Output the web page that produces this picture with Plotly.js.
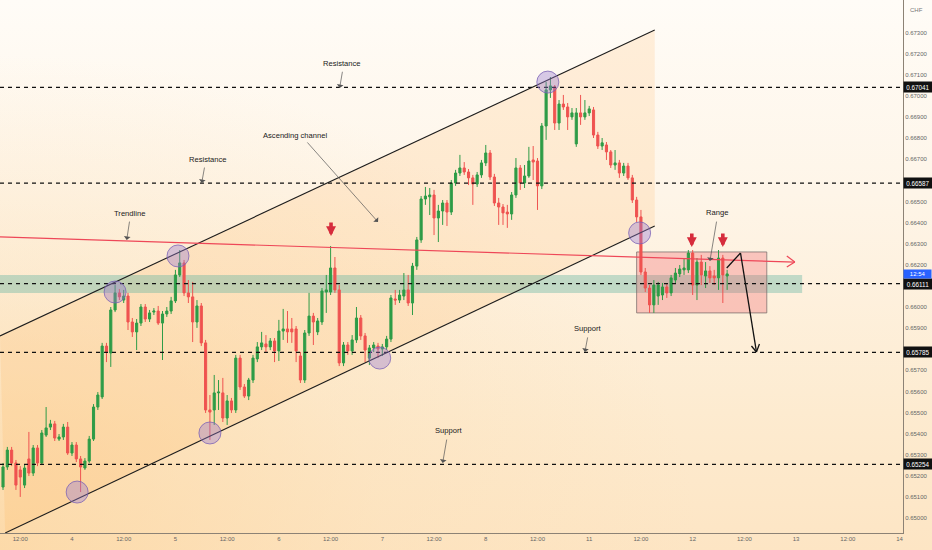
<!DOCTYPE html>
<html>
<head>
<meta charset="utf-8">
<script src="https://cdn.plot.ly/plotly-3.0.1.min.js"></script>
<style>
  html, body { margin:0; padding:0; }
  body { width:932px; height:550px; overflow:hidden;
    background: linear-gradient(to bottom, #fffcf7 0%, #fef5e8 35%, #fdebd0 75%, #fde5c4 100%); }
  #chart { width:932px; height:550px;
    background: radial-gradient(ellipse 75% 90% at 0% 100%, rgba(252,214,160,0.75) 0%, rgba(252,222,178,0.35) 55%, rgba(255,255,255,0) 100%); }
</style>
</head>
<body>
<div id="chart"></div>
<script>
// ---- hourly candles (x = hours from day "4" 00:00, trading hours only) ----
const firstHour = -16;
const open = [
0.65147,0.65242,0.65322,0.65261,0.65228,0.65156,0.65280,0.65213,0.65332,0.65261,
0.65393,0.65431,0.65446,0.65374,0.65384,0.65431,0.65308,0.65346,0.65280,0.65237,
0.65270,0.65374,0.65526,0.65574,0.65815,0.65782,0.65986,0.66067,0.66033,0.66052,
0.65929,0.65882,0.65924,0.66000,0.65943,0.65976,0.65981,0.65924,0.65967,0.65981,
0.66029,0.66152,0.66209,0.66067,0.66048,0.65929,0.66005,0.65830,0.65512,0.65512,
0.65593,0.65593,0.65474,0.65555,0.65512,0.65758,0.65621,0.65578,0.65654,0.65754,
0.65811,0.65825,0.65811,0.65839,0.65792,0.65886,0.65896,0.65896,0.65896,0.65768,
0.65654,0.65877,0.65957,0.65882,0.65929,0.66071,0.66071,0.66185,0.66081,0.65735,
0.65820,0.65792,0.65844,0.65948,0.65863,0.65758,0.65806,0.65815,0.65801,0.65811,
0.65848,0.66038,0.66033,0.66052,0.66081,0.66019,0.66194,0.66318,0.66512,0.66522,
0.66531,0.66422,0.66455,0.66493,0.66450,0.66588,0.66635,0.66659,0.66640,0.66612,
0.66583,0.66626,0.66683,0.66730,0.66616,0.66493,0.66474,0.66450,0.66441,0.66531,
0.66659,0.66588,0.66621,0.66697,0.66692,0.66574,0.66858,0.67029,0.67043,0.66872,
0.66962,0.66948,0.66901,0.66773,0.66920,0.66901,0.66920,0.66934,0.66815,0.66763,
0.66768,0.66735,0.66673,0.66683,0.66635,0.66668,0.66612,0.66507,0.66427,0.66166,
0.66090,0.66010,0.66052,0.66057,0.66095,0.66067,0.66128,0.66157,0.66176,0.66176,
0.66256,0.66104,0.66213,0.66147,0.66171,0.66147,0.66138,0.66232,0.66147];
const high = [
0.65261,0.65337,0.65337,0.65275,0.65246,0.65256,0.65408,0.65346,0.65346,0.65417,
0.65526,0.65465,0.65460,0.65398,0.65446,0.65455,0.65360,0.65360,0.65294,0.65284,
0.65389,0.65540,0.65597,0.65830,0.65830,0.66000,0.66104,0.66085,0.66081,0.66067,
0.65948,0.65943,0.66014,0.66014,0.65986,0.65995,0.66005,0.65981,0.66000,0.66048,
0.66176,0.66270,0.66223,0.66128,0.66119,0.66033,0.66019,0.65844,0.65583,0.65678,
0.65654,0.65664,0.65583,0.65569,0.65773,0.65773,0.65635,0.65664,0.65773,0.65834,
0.65882,0.65867,0.65853,0.65853,0.65939,0.65991,0.65981,0.65948,0.65910,0.65787,
0.65891,0.66067,0.65972,0.65948,0.66090,0.66152,0.66289,0.66237,0.66104,0.65834,
0.65834,0.65867,0.66000,0.65962,0.65877,0.65820,0.65834,0.65830,0.65825,0.65863,
0.66057,0.66081,0.66081,0.66161,0.66152,0.66209,0.66332,0.66526,0.66569,0.66564,
0.66555,0.66484,0.66507,0.66507,0.66602,0.66650,0.66721,0.66687,0.66654,0.66626,
0.66640,0.66697,0.66768,0.66744,0.66631,0.66517,0.66488,0.66484,0.66545,0.66706,
0.66673,0.66673,0.66759,0.66763,0.66706,0.66872,0.67067,0.67090,0.67052,0.66981,
0.67005,0.66967,0.66943,0.66943,0.67005,0.66981,0.66953,0.66948,0.66830,0.66801,
0.66782,0.66744,0.66744,0.66697,0.66683,0.66683,0.66626,0.66522,0.66460,0.66185,
0.66104,0.66128,0.66119,0.66114,0.66109,0.66152,0.66185,0.66199,0.66232,0.66270,
0.66270,0.66232,0.66247,0.66213,0.66194,0.66176,0.66270,0.66247,0.66176];
const low = [
0.65133,0.65228,0.65246,0.65133,0.65100,0.65142,0.65199,0.65199,0.65246,0.65251,
0.65384,0.65417,0.65365,0.65365,0.65370,0.65299,0.65294,0.65265,0.65123,0.65228,
0.65261,0.65365,0.65512,0.65564,0.65739,0.65716,0.65976,0.66033,0.66019,0.65891,
0.65858,0.65796,0.65910,0.65929,0.65929,0.65962,0.65915,0.65749,0.65953,0.65967,
0.66019,0.66142,0.66052,0.66019,0.65834,0.65901,0.65815,0.65498,0.65370,0.65441,
0.65512,0.65455,0.65441,0.65498,0.65498,0.65607,0.65569,0.65559,0.65640,0.65739,
0.65796,0.65787,0.65796,0.65739,0.65744,0.65844,0.65830,0.65830,0.65739,0.65640,
0.65640,0.65863,0.65820,0.65867,0.65915,0.65972,0.66057,0.66067,0.65720,0.65720,
0.65773,0.65773,0.65830,0.65844,0.65739,0.65725,0.65787,0.65758,0.65768,0.65796,
0.65834,0.66010,0.66019,0.66033,0.66005,0.65962,0.66176,0.66304,0.66484,0.66436,
0.66341,0.66308,0.66389,0.66384,0.66436,0.66574,0.66621,0.66626,0.66578,0.66484,
0.66569,0.66612,0.66668,0.66602,0.66479,0.66389,0.66389,0.66375,0.66413,0.66517,
0.66555,0.66564,0.66612,0.66602,0.66460,0.66559,0.66792,0.66991,0.66839,0.66839,
0.66934,0.66839,0.66887,0.66759,0.66863,0.66887,0.66905,0.66801,0.66749,0.66744,
0.66697,0.66659,0.66650,0.66612,0.66621,0.66602,0.66493,0.66403,0.66152,0.66071,
0.65972,0.65972,0.66010,0.66033,0.66043,0.66052,0.66114,0.66142,0.66152,0.66161,
0.66057,0.66033,0.66104,0.66090,0.66114,0.66104,0.66081,0.66019,0.66081];
const close = [
0.65242,0.65322,0.65261,0.65156,0.65194,0.65237,0.65213,0.65332,0.65261,0.65403,
0.65427,0.65446,0.65379,0.65384,0.65431,0.65308,0.65346,0.65280,0.65242,0.65270,
0.65374,0.65526,0.65583,0.65815,0.65787,0.65986,0.66067,0.66048,0.66052,0.65929,
0.65882,0.65924,0.66000,0.65943,0.65972,0.65981,0.65924,0.65967,0.65981,0.66029,
0.66152,0.66209,0.66067,0.66048,0.65929,0.66005,0.65830,0.65512,0.65502,0.65593,
0.65597,0.65474,0.65555,0.65512,0.65758,0.65621,0.65578,0.65654,0.65758,0.65811,
0.65830,0.65811,0.65839,0.65792,0.65886,0.65896,0.65882,0.65882,0.65792,0.65654,
0.65877,0.65957,0.65929,0.65934,0.66076,0.66081,0.66185,0.66081,0.65735,0.65820,
0.65792,0.65844,0.65948,0.65863,0.65796,0.65806,0.65820,0.65801,0.65811,0.65848,
0.66043,0.66033,0.66057,0.66081,0.66019,0.66194,0.66318,0.66512,0.66526,0.66531,
0.66422,0.66455,0.66493,0.66450,0.66588,0.66635,0.66659,0.66640,0.66612,0.66583,
0.66626,0.66683,0.66730,0.66616,0.66493,0.66474,0.66446,0.66441,0.66531,0.66659,
0.66588,0.66621,0.66692,0.66687,0.66574,0.66858,0.67029,0.67048,0.66872,0.66962,
0.66948,0.66901,0.66920,0.66920,0.66901,0.66920,0.66939,0.66815,0.66763,0.66778,
0.66735,0.66673,0.66683,0.66635,0.66668,0.66612,0.66507,0.66427,0.66166,0.66090,
0.66010,0.66104,0.66104,0.66095,0.66067,0.66138,0.66161,0.66180,0.66185,0.66256,
0.66104,0.66213,0.66152,0.66171,0.66138,0.66138,0.66232,0.66152,0.66157];

// ---- axis ticks ----
const xTickVals = [-12,0,12,24,36,48,60,72,84,96,108,120,132,144,156,168,180,192];
const xTickText = ["12:00","4","12:00","5","12:00","6","12:00","7","12:00","8","12:00","11","12:00","12","12:00","13","12:00","14"];
// price ticks that are not hidden behind the level labels
const yTickVals = [0.650,0.651,0.652,0.653,0.654,0.655,0.656,0.657,0.659,0.660,0.662,0.663,0.664,0.665,0.667,0.668,0.669,0.670,0.671,0.672,0.673];

// ---- drawn levels / tools ----
const levelPrices = [0.67041, 0.66587, 0.66111, 0.65785, 0.65254];
const levelLabels = ["0.67041", "0.66587", "0.66111", "0.65785", "0.65254"];
const channelUpper = [[-16.7, 0.65863], [135.2, 0.67313]];
const channelLower = [[-15.5, 0.64929], [135.2, 0.66384]];
const trendLine = [[-16.7, 0.66332], [167.7, 0.66213]];
const zoneBand = {x: [-16.7, 169.4], y: [0.66067, 0.66152]};
const rangeBox = {x: [131.0, 161.2], y: [0.65972, 0.66261]};
const projection = [[151.9, 0.66185], [155.1, 0.66256], [158.8, 0.65787]];
const touchX = [1.2, 10.0, 24.6, 32.0, 71.4, 110.4, 131.7];
const touchY = [0.65123, 0.66071, 0.66242, 0.65403, 0.65758, 0.67066, 0.66351];
const sellArrowX = [60.1, 143.8, 151.0];
const sellArrowY = [0.66336, 0.66284, 0.66284];
const noteText = ["Resistance", "Resistance", "Ascending channel", "Trendline", "Range", "Support", "Support"];
const noteX = [62.6, 31.5, 51.7, 13.4, 149.6, 119.7, 87.4];
const noteY = [0.67156, 0.66701, 0.66815, 0.66445, 0.66450, 0.65900, 0.65417];
const pointerFrom = [[62.8, 0.67122], [30.8, 0.66668], [54.3, 0.66787], [13.4, 0.66412], [149.6, 0.66412], [119.7, 0.65863], [87.0, 0.65379]];
const pointerTo = [[62.1, 0.67038], [30.1, 0.66588], [71.0, 0.66403], [12.7, 0.66318], [148.0, 0.66218], [119.0, 0.65787], [86.0, 0.65261]];
const lastPriceCountdown = "12:54";
const lastPrice = 0.66157;
const currency = "CHF";

const x = close.map((_, i) => firstHour + i);
const GREEN = '#2e9c47', RED = '#ef5350';

const traces = [{
  type: 'candlestick', x: x, open: open, high: high, low: low, close: close,
  increasing: {line: {color: GREEN, width: 1}, fillcolor: GREEN},
  decreasing: {line: {color: RED, width: 1}, fillcolor: RED},
  whiskerwidth: 0, hoverinfo: 'skip', showlegend: false
}];

const shapes = [];
shapes.push({type: 'path', xref: 'x', yref: 'y', layer: 'below',
  path: `M ${channelUpper[0][0]},${channelUpper[0][1]} L ${channelUpper[1][0]},${channelUpper[1][1]} L ${channelLower[1][0]},${channelLower[1][1]} L ${channelLower[0][0]},${channelLower[0][1]} Z`,
  fillcolor: 'rgba(255,166,60,0.14)', line: {width: 0}});
shapes.push({type: 'rect', xref: 'x', yref: 'y', layer: 'below',
  x0: zoneBand.x[0], x1: zoneBand.x[1], y0: zoneBand.y[0], y1: zoneBand.y[1],
  fillcolor: 'rgba(95,180,160,0.38)', line: {width: 0}});
shapes.push({type: 'rect', xref: 'x', yref: 'y', layer: 'below',
  x0: rangeBox.x[0], x1: rangeBox.x[1], y0: rangeBox.y[0], y1: rangeBox.y[1],
  fillcolor: 'rgba(240,80,95,0.28)', line: {color: 'rgba(110,100,100,0.7)', width: 1}});
[channelUpper, channelLower].forEach(l => shapes.push({type: 'line', xref: 'x', yref: 'y',
  x0: l[0][0], y0: l[0][1], x1: l[1][0], y1: l[1][1], line: {color: '#1d1d1d', width: 1.1}}));
levelPrices.forEach(p => shapes.push({type: 'line', xref: 'paper', yref: 'y', x0: 0, x1: 1, y0: p, y1: p,
  line: {color: '#111', width: 1.3, dash: '4px,4px'}}));
shapes.push({type: 'line', xref: 'x', yref: 'y', x0: trendLine[0][0], y0: trendLine[0][1], x1: trendLine[1][0], y1: trendLine[1][1],
  line: {color: '#ee4758', width: 1.2}});
[[-8, 6], [-8, -5]].forEach(w => shapes.push({type: 'line', xref: 'x', yref: 'y', xsizemode: 'pixel', ysizemode: 'pixel',
  xanchor: trendLine[1][0], yanchor: trendLine[1][1], x0: w[0], y0: w[1], x1: 0, y1: 0, line: {color: '#ee4758', width: 1.2}}));
for (let i = 0; i < projection.length - 1; i++) {
  shapes.push({type: 'line', xref: 'x', yref: 'y', x0: projection[i][0], y0: projection[i][1], x1: projection[i+1][0], y1: projection[i+1][1],
    line: {color: '#111', width: 1.3}});
}
const tip = projection[projection.length - 1];
[[3, 8], [-5, 6]].forEach(w => shapes.push({type: 'line', xref: 'x', yref: 'y', xsizemode: 'pixel', ysizemode: 'pixel',
  xanchor: tip[0], yanchor: tip[1], x0: w[0], y0: w[1], x1: 0, y1: 0, line: {color: '#111', width: 1.3}}));
touchX.forEach((tx, i) => shapes.push({type: 'circle', xref: 'x', yref: 'y', xsizemode: 'pixel', ysizemode: 'pixel',
  xanchor: tx, yanchor: touchY[i], x0: -11, x1: 11, y0: -11, y1: 11,
  fillcolor: 'rgba(150,120,210,0.38)', line: {color: 'rgba(120,95,180,0.75)', width: 1}}));

const annotations = [];
noteText.forEach((t, i) => annotations.push({x: noteX[i], y: noteY[i], xref: 'x', yref: 'y', text: t, showarrow: false,
  font: {family: 'Liberation Sans, Arial, sans-serif', size: 7.6, color: '#1a1a1a'}}));
pointerFrom.forEach((f, i) => annotations.push({x: pointerTo[i][0], y: pointerTo[i][1], ax: f[0], ay: f[1], axref: 'x', ayref: 'y',
  xref: 'x', yref: 'y', text: '', showarrow: true, arrowhead: 1, arrowsize: 1.6, arrowwidth: 0.7, arrowcolor: '#555', standoff: 0}));
sellArrowX.forEach((sx, i) => annotations.push({x: sx, y: sellArrowY[i], xref: 'x', yref: 'y', text: '', showarrow: true,
  ax: 0, ay: -15, arrowhead: 2, arrowsize: 0.55, arrowwidth: 3.6, arrowcolor: '#d62c3c', standoff: 0}));
levelPrices.forEach((p, i) => annotations.push({x: 1, y: p, xref: 'paper', yref: 'y', xanchor: 'left', text: levelLabels[i],
  showarrow: false, bgcolor: '#111', borderpad: 1.5, width: 25, align: 'center',
  font: {family: 'Liberation Sans, Arial, sans-serif', size: 6.3, color: '#fff'}}));
annotations.push({x: 1, y: lastPrice - 0.00002, xref: 'paper', yref: 'y', xanchor: 'left', text: lastPriceCountdown,
  showarrow: false, bgcolor: '#2962ff', borderpad: 1.2, width: 25, align: 'center',
  font: {family: 'Liberation Sans, Arial, sans-serif', size: 6, color: '#fff'}});
annotations.push({x: 1, y: 0.99, xref: 'paper', yref: 'paper', xanchor: 'left', xshift: 5, text: currency, showarrow: false,
  font: {family: 'Liberation Sans, Arial, sans-serif', size: 6, color: '#777'}});

const layout = {
  width: 932, height: 550,
  margin: {l: 0, r: 29, t: 0, b: 17, pad: 0},
  paper_bgcolor: 'rgba(0,0,0,0)', plot_bgcolor: 'rgba(0,0,0,0)',
  showlegend: false, dragmode: false,
  xaxis: {range: [-16.7, 192.8], tickvals: xTickVals, ticktext: xTickText, showgrid: false, zeroline: false,
    showline: true, linecolor: '#8c8275', linewidth: 1, ticks: '', ticklen: 0,
    tickfont: {family: 'Liberation Sans, Arial, sans-serif', size: 6, color: '#666'},
    rangeslider: {visible: false}, fixedrange: true},
  yaxis: {side: 'right', range: [0.64929, 0.67455], tickvals: yTickVals, ticktext: yTickVals.map(v => v.toFixed(5)),
    showgrid: false, zeroline: false, showline: true, linecolor: '#8c8275', linewidth: 1, ticks: '',
    tickfont: {family: 'Liberation Sans, Arial, sans-serif', size: 6, color: '#666'}, fixedrange: true},
  shapes: shapes, annotations: annotations
};

Plotly.newPlot('chart', traces, layout, {displayModeBar: false, staticPlot: true});
</script>
</body>
</html>
